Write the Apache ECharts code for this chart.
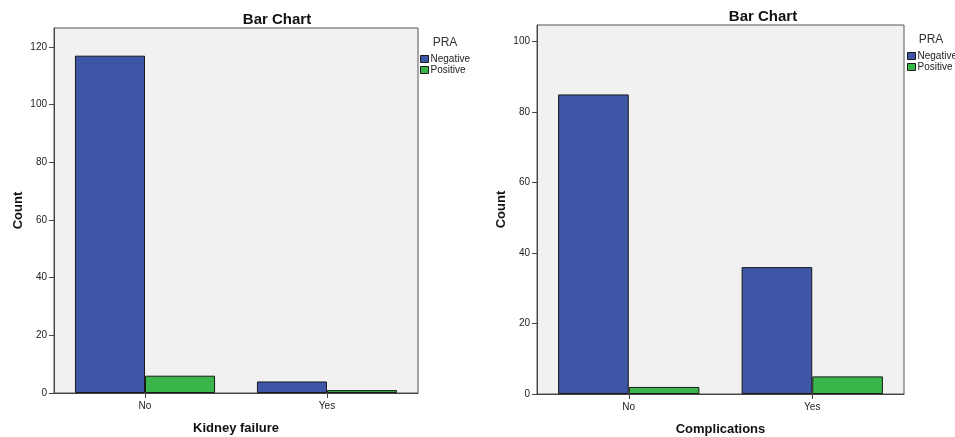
<!DOCTYPE html>
<html>
<head>
<meta charset="utf-8">
<script src="https://cdn.jsdelivr.net/npm/echarts@6/dist/echarts.min.js"></script>
<style>
html,body{margin:0;padding:0;background:#fff;}
#chart{width:955px;height:437px;}
</style>
</head>
<body>
<div id="chart"></div>
<script>
// Data
var categories = ['No', 'Yes'];
var kidneyNegative = [117, 4];
var kidneyPositive = [6, 1];
var complNegative = [85, 36];
var complPositive = [2, 5];
var kidneyTicks = [0, 20, 40, 60, 80, 100, 120];
var complTicks = [0, 20, 40, 60, 80, 100];
var legendNames = ['Negative', 'Positive'];

var BLUE = '#3d56a6';
var GREEN = '#39b54a';
var FONT = 'Liberation Sans, Arial, sans-serif';

function yAxis(idx, max, ticks) {
  return {
    type: 'value', gridIndex: idx, min: 0, max: max,
    name: 'Count', nameLocation: 'middle', nameGap: 29,
    nameTextStyle: {fontFamily: FONT, fontWeight: 'bold', fontSize: 13, color: '#111'},
    axisLine: {show: true, lineStyle: {color: '#444', width: 1}},
    axisTick: {show: true, length: 5, lineStyle: {color: '#444'}, customValues: ticks},
    axisLabel: {fontFamily: FONT, fontSize: 10, color: '#222', margin: 7, customValues: ticks},
    splitLine: {show: false}
  };
}
function xAxis(idx, name) {
  return {
    type: 'category', gridIndex: idx, data: categories,
    name: name, nameLocation: 'middle', nameGap: 29,
    nameTextStyle: {fontFamily: FONT, fontWeight: 'bold', fontSize: 13, color: '#111'},
    axisLine: {lineStyle: {color: '#444', width: 1}},
    axisTick: {show: true, alignWithLabel: true, length: 5, lineStyle: {color: '#444'}},
    axisLabel: {fontFamily: FONT, fontSize: 10, color: '#222', margin: 8}
  };
}
function bar(name, data, idx, color) {
  return {
    type: 'bar', name: name, data: data, xAxisIndex: idx, yAxisIndex: idx,
    barGap: '0%', barCategoryGap: '23%',
    itemStyle: {color: color, borderColor: '#1a1a1a', borderWidth: 1},
    emphasis: {disabled: true}
  };
}

var chart = echarts.init(document.getElementById('chart'));
chart.setOption({
  animation: false,
  backgroundColor: '#fff',
  title: [
    {text: 'Bar Chart', left: 277, top: 12, textAlign: 'center', padding: 0,
     textStyle: {fontFamily: FONT, fontWeight: 'bold', fontSize: 15, color: '#111'}},
    {text: 'Bar Chart', left: 763, top: 9, textAlign: 'center', padding: 0,
     textStyle: {fontFamily: FONT, fontWeight: 'bold', fontSize: 15, color: '#111'}},
    {text: 'PRA', left: 445, top: 37, textAlign: 'center', padding: 0,
     textStyle: {fontFamily: FONT, fontWeight: 'normal', fontSize: 12, color: '#333'}},
    {text: 'PRA', left: 931, top: 34, textAlign: 'center', padding: 0,
     textStyle: {fontFamily: FONT, fontWeight: 'normal', fontSize: 12, color: '#333'}}
  ],
  legend: [
    {data: legendNames, orient: 'vertical', left: 420, top: 54, padding: 0, itemWidth: 8, itemHeight: 7, itemGap: 1,
     icon: 'rect', selectedMode: false,
     itemStyle: {borderColor: '#1a1a1a', borderWidth: 1},
     textStyle: {fontFamily: FONT, fontSize: 10, color: '#222', padding: [0, 0, 0, -3]}},
    {data: legendNames, orient: 'vertical', left: 907, top: 51, padding: 0, itemWidth: 8, itemHeight: 7, itemGap: 1,
     icon: 'rect', selectedMode: false,
     itemStyle: {borderColor: '#1a1a1a', borderWidth: 1},
     textStyle: {fontFamily: FONT, fontSize: 10, color: '#222', padding: [0, 0, 0, -3]}}
  ],
  grid: [
    {left: 54, top: 28, width: 364, height: 365, outerBoundsMode: 'none', containLabel: false,
     show: true, backgroundColor: '#f1f1f1', borderColor: '#555', borderWidth: 1},
    {left: 537, top: 25, width: 367, height: 369, outerBoundsMode: 'none', containLabel: false,
     show: true, backgroundColor: '#f1f1f1', borderColor: '#555', borderWidth: 1}
  ],
  xAxis: [xAxis(0, 'Kidney failure'), xAxis(1, 'Complications')],
  yAxis: [yAxis(0, 126.6, kidneyTicks), yAxis(1, 104.7, complTicks)],
  series: [
    bar('Negative', kidneyNegative, 0, BLUE),
    bar('Positive', kidneyPositive, 0, GREEN),
    bar('Negative', complNegative, 1, BLUE),
    bar('Positive', complPositive, 1, GREEN)
  ]
});
</script>
</body>
</html>
